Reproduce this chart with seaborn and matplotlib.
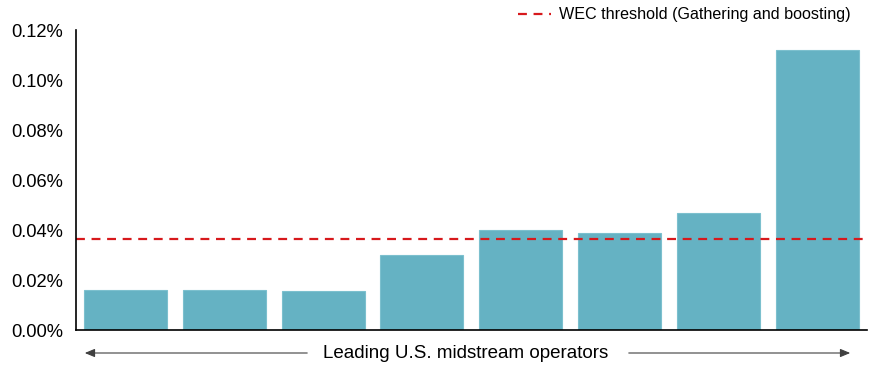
import matplotlib
matplotlib.use("Agg")
import matplotlib.pyplot as plt
from matplotlib.lines import Line2D
import seaborn as sns
import pandas as pd

# data (percent)
operators = ["Op 1", "Op 2", "Op 3", "Op 4", "Op 5", "Op 6", "Op 7", "Op 8"]
intensity = [0.0160, 0.0160, 0.0156, 0.0300, 0.0400, 0.0387, 0.0470, 0.1120]
threshold = 0.0363
yticks = [0.00, 0.02, 0.04, 0.06, 0.08, 0.10, 0.12]

df = pd.DataFrame({"operator": operators, "intensity": intensity})

sns.set_style("white")
plt.rcParams["font.family"] = ["Liberation Sans", "DejaVu Sans"]
plt.rcParams["text.color"] = "black"
plt.rcParams["ytick.color"] = "black"

fig = plt.figure(figsize=(8.76, 3.76), dpi=100)
ax = fig.add_axes([0.0868, 0.1223, 0.9025, 0.7977])

sns.barplot(data=df, x="operator", y="intensity", color="#65B2C3",
            saturation=1, width=0.84, edgecolor="#7CC0CE", linewidth=0.8, ax=ax)
ax.axhline(threshold, color="#D7191C", ls=(0, (4, 3)), lw=1.6)

ax.set_xlim(-0.5, 7.5)
ax.set_ylim(0, 0.12)
ax.set_yticks(yticks)
ax.set_yticklabels([f"{v:.2f}%" for v in yticks], fontsize=13.2, color="black")
ax.set_xticks([])
ax.set_xlabel("")
ax.set_ylabel("")
ax.tick_params(axis="y", length=0, pad=9.5)
for s in ["top", "right"]:
    ax.spines[s].set_visible(False)
for s in ["left", "bottom"]:
    ax.spines[s].set_color("black")
    ax.spines[s].set_linewidth(1.2)

handle = Line2D([], [], color="#D7191C", ls=(0, (4, 3)), lw=1.6)
ax.legend([handle], ["WEC threshold (Gathering and boosting)"], loc="center right",
          bbox_to_anchor=(851 / 876, 1 - 15 / 376), bbox_transform=fig.transFigure,
          frameon=False, fontsize=11.6, handlelength=2.0, handletextpad=0.55,
          borderpad=0, borderaxespad=0)

# bottom arrows and label
yf = 1 - 353 / 376
arrow = dict(arrowstyle="-|>,head_length=0.6,head_width=0.25", color="#404040", lw=0.8)
fig.add_artist(matplotlib.patches.FancyArrowPatch((310 / 876, yf), (82 / 876, yf),
               transform=fig.transFigure, mutation_scale=10, **arrow))
fig.add_artist(matplotlib.patches.FancyArrowPatch((626 / 876, yf), (853 / 876, yf),
               transform=fig.transFigure, mutation_scale=10, **arrow))
fig.text(466 / 876, yf, "Leading U.S. midstream operators", ha="center", va="center",
         fontsize=13.5)

fig.savefig("out.png", dpi=100)
